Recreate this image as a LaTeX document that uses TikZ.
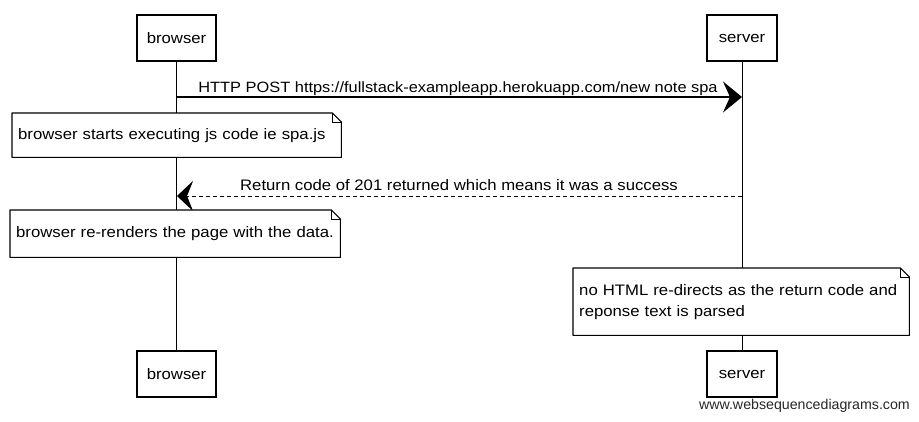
\documentclass[tikz,border=0pt]{standalone}
\usepackage{fontspec}
\setmainfont{Liberation Sans}[FakeStretch=1.1]
\newfontfamily\wmfont{Liberation Sans}
\usetikzlibrary{arrows.meta,calc}
\begin{document}
\begin{tikzpicture}[x=1pt,y=-1pt,
  hand/.style={font=\fontsize{15.2}{21}\selectfont},
  actor/.style={hand, draw, line width=1.1pt, minimum width=79pt, minimum height=46pt, inner sep=0pt, fill=white},
  lifeline/.style={line width=0.8pt},
  msg/.style={line width=1.1pt},
  bighead/.style={-{Stealth[length=19pt,width=31pt,inset=7pt]}},
  note/.style={hand, fill=white, draw=none, anchor=north west, align=left, inner xsep=6pt, inner ysep=0pt},
  noteline/.style={line width=1.1pt, line join=round},
  lbl/.style={hand, inner sep=0pt}]
\useasboundingbox (0,0) rectangle (919,421);

% actors
\node[actor] (bt) at (176.5,38) {browser};
\node[actor, minimum width=70pt] (st) at (742,38) {server};
\node[actor] (bb) at (176.5,374) {browser};
\node[actor, minimum width=70pt] (sb) at (742,374) {server};

% lifelines
\draw[lifeline] (bt) -- (bb);
\draw[lifeline] (st) -- (sb);

% message 1
\coordinate (m1a) at (177,97);
\coordinate (m1b) at (742,97);
\draw[msg, bighead] (m1a) -- (m1b);
\node[lbl, anchor=base, font=\fontsize{14.9}{18}\selectfont] (m1t) at (458,92) {HTTP POST https://fullstack-exampleapp.herokuapp.com/new note spa};

% note 1
\node[note, minimum width=329pt, minimum height=44pt, text width=317pt] (n1) at (12,113) {browser starts executing js code ie spa.js};
\draw[noteline] (n1.north west) -- ($(n1.north east)+(-9,0)$) -- ($(n1.north east)+(0,9)$) -- (n1.south east) -- (n1.south west) -- cycle;
\draw[line width=0.8pt] ($(n1.north east)+(-9,0)$) -- ($(n1.north east)+(-9,9)$) -- ($(n1.north east)+(0,9)$);

% message 2
\coordinate (m2a) at (742,196);
\coordinate (m2b) at (177,196);
\draw[line width=0.9pt, dash pattern=on 4pt off 3pt, -{Stealth[length=16pt,width=30pt,inset=6pt]}] (m2a) -- (m2b);
\node[lbl, anchor=base] (m2t) at (459,190) {Return code of 201 returned which means it was a success};

% note 2
\node[note, minimum width=330pt, minimum height=47pt, text width=318pt] (n2) at (10,210) {browser re-renders the page with the data.};
\draw[noteline] (n2.north west) -- ($(n2.north east)+(-9,0)$) -- ($(n2.north east)+(0,9)$) -- (n2.south east) -- (n2.south west) -- cycle;
\draw[line width=0.8pt] ($(n2.north east)+(-9,0)$) -- ($(n2.north east)+(-9,9)$) -- ($(n2.north east)+(0,9)$);

% note 3
\node[note, minimum width=336pt, minimum height=67pt, text width=324pt] (n3) at (573,268) {no HTML re-directs as the return code and\\reponse text is parsed};
\draw[noteline] (n3.north west) -- ($(n3.north east)+(-9,0)$) -- ($(n3.north east)+(0,9)$) -- (n3.south east) -- (n3.south west) -- cycle;
\draw[line width=0.8pt] ($(n3.north east)+(-9,0)$) -- ($(n3.north east)+(-9,9)$) -- ($(n3.north east)+(0,9)$);

% watermark
\node[font=\wmfont\fontsize{14.2}{16}\selectfont, anchor=east, inner sep=0pt, text=black!85] (wm) at (910,406) {www.websequencediagrams.com};
\end{tikzpicture}
\end{document}
